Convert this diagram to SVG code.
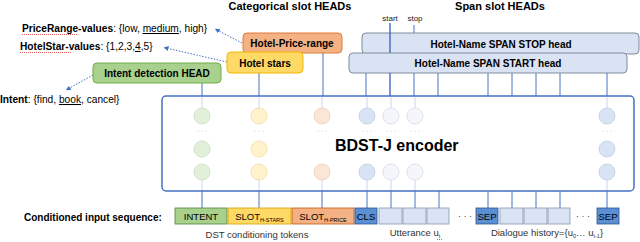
<svg xmlns="http://www.w3.org/2000/svg" width="640" height="242" viewBox="0 0 640 242">
<style>
text{font-family:"Liberation Sans",Arial,sans-serif;fill:#000}
.b{font-weight:bold}
.hd{font-size:10px;font-weight:bold;text-anchor:middle}
.ttl{font-size:11px;font-weight:bold;text-anchor:middle}
.lbl{font-size:10.2px}
.tok{font-size:9.5px;text-anchor:middle}
.sub{font-size:5.5px}
.cap{font-size:9.5px;fill:#333;text-anchor:middle}
.conn{stroke:#4472c4;stroke-width:1;fill:none}
.faint{stroke:#c9d6ee;stroke-width:1;fill:none}
.dash{stroke:#4472c4;stroke-width:1;stroke-dasharray:1.5 1.5;fill:none}
.span{fill:#dae3f3;stroke:#7f8b9b;stroke-width:1}
.cg{fill:#e2efda;stroke:#d3e3c8}
.cy{fill:#fff2cc;stroke:#f5e4b0}
.co{fill:#fbe5d6;stroke:#f3d3bf}
.cb{fill:#dae3f3;stroke:#c9d5ea}
.cl{fill:#f4f6fb;stroke:#dde3ef}
.dots{fill:#bbb}
.sq{stroke:#e03030;stroke-width:0.8;stroke-dasharray:1 1;fill:none}
.tk{stroke-width:0.8}
</style>
<defs>
<marker id="ah" viewBox="0 0 6 6" refX="3" refY="3" markerWidth="5" markerHeight="5" orient="auto-start-reverse">
<path d="M0,0 L6,3 L0,6 z" fill="#4472c4"/>
</marker>
</defs>

<!-- titles -->
<text class="ttl" x="290" y="10">Categorical slot HEADs</text>
<text class="ttl" x="500" y="10">Span slot HEADs</text>
<text x="390" y="21" style="font-size:8px;text-anchor:middle;fill:#222">start</text>
<text x="415" y="21" style="font-size:8px;text-anchor:middle;fill:#222">stop</text>

<!-- value texts -->
<g id="price-values">
<text class="lbl" x="22" y="32"><tspan class="b">PriceRange-values</tspan>: {low, <tspan text-decoration="underline">medium</tspan>, high}</text>
<path class="sq" d="M22,34.5 H78"/>
</g>
<g id="star-values">
<text class="lbl" x="20" y="50"><tspan class="b">HotelStar-values</tspan>: {1,2,3,<tspan text-decoration="underline">4</tspan>,5}</text>
<path class="sq" d="M20,52.5 H72"/>
</g>
<g id="intent-values">
<text class="lbl" x="0" y="103"><tspan class="b">Intent</tspan>: {find, <tspan text-decoration="underline">book</tspan>, cancel}</text>
</g>

<!-- connectors -->
<g id="connectors">
<path class="dash" d="M242,43 L217,30" marker-end="url(#ah)"/>
<path class="dash" d="M227,62 L166,48" marker-end="url(#ah)"/>
<path class="dash" d="M93,75 L68,89" marker-end="url(#ah)"/>
<path class="conn" d="M202,83 V96 M259,73 V96 M323,53 V96"/>
<path class="conn" d="M366,73 V96 M414,73 V96 M438,73 V96 M488,73 V96 M512,73 V96 M536,73 V96 M560,73 V96 M607,73 V96"/>
<path class="conn" d="M414,25 V33"/>
<path class="conn" d="M202,191 V208 M259,191 V208 M322,191 V208 M367,191 V208 M391,191 V208 M415,191 V208 M439,191 V208 M488,191 V208 M512,191 V208 M536,191 V208 M560,191 V208 M607,191 V208"/>
</g>

<!-- Span heads -->
<g id="span-stop">
<rect class="span" x="362" y="33" width="277" height="21" rx="4"/>
</g>
<path class="conn" d="M390,23 V53" style="stroke:#2f5fb8;stroke-width:1.3"/>
<g id="span-stop-label">
<text class="hd" x="501" y="48">Hotel-Name SPAN STOP head</text>
</g>
<g id="span-start">
<rect class="span" x="349" y="53" width="278" height="20" rx="4"/>
<text class="hd" x="488" y="67">Hotel-Name SPAN START head</text>
</g>
<path class="conn" d="M390,73 V96" style="stroke:#2f5fb8;stroke-width:1.3"/>

<!-- Categorical heads -->
<g id="head-price">
<rect x="243" y="33" width="99" height="20" rx="4" fill="#f4b183" stroke="#e07b3a"/>
<text class="hd" x="292" y="47">Hotel-Price-range</text>
</g>
<g id="head-stars">
<rect x="227" y="52" width="76" height="21" rx="4" fill="#ffd966" stroke="#f0b800"/>
<text class="hd" x="265" y="66.5">Hotel stars</text>
</g>
<g id="head-intent">
<rect x="93" y="63" width="128" height="20" rx="4" fill="#a9d18e" stroke="#70ad47"/>
<text class="hd" x="157" y="77">Intent detection HEAD</text>
</g>

<!-- Encoder -->
<g id="encoder">
<rect x="162" y="96" width="472" height="95" rx="4" fill="#fff" stroke="#4472c4" stroke-width="1.5"/>
<path class="faint" d="M202,97 V108 M202,180 V190 M259,97 V108 M259,180 V190 M322,97 V108 M322,180 V190 M367,97 V108 M367,180 V190 M391,97 V108 M391,180 V190 M415,97 V108 M415,180 V190 M607,97 V108 M607,180 V190"/>
<circle class="cg" cx="202" cy="116" r="8"/><circle class="cg" cx="202" cy="149" r="8"/><circle class="cg" cx="202" cy="172" r="8"/>
<circle class="cy" cx="259" cy="116" r="8"/><circle class="cy" cx="259" cy="149" r="8"/><circle class="cy" cx="259" cy="172" r="8"/>
<circle class="co" cx="322" cy="116" r="8"/><circle class="co" cx="322" cy="172" r="8"/>
<circle class="cb" cx="367" cy="116" r="8"/><circle class="cb" cx="367" cy="172" r="8"/>
<circle class="cl" cx="391" cy="116" r="8"/><circle class="cl" cx="391" cy="172" r="8"/>
<circle class="cl" cx="415" cy="116" r="8"/><circle class="cl" cx="415" cy="172" r="8"/>
<circle class="cb" cx="607" cy="116" r="8"/><circle class="cb" cx="607" cy="149" r="8"/><circle class="cb" cx="607" cy="172" r="8"/>
<g class="dots">
<circle cx="198" cy="131" r="0.5"/><circle cx="202" cy="131" r="0.5"/><circle cx="206" cy="131" r="0.5"/>
<circle cx="255" cy="131" r="0.5"/><circle cx="259" cy="131" r="0.5"/><circle cx="263" cy="131" r="0.5"/>
<circle cx="318" cy="131" r="0.5"/><circle cx="322" cy="131" r="0.5"/><circle cx="326" cy="131" r="0.5"/>
<circle cx="363" cy="131" r="0.5"/><circle cx="367" cy="131" r="0.5"/><circle cx="371" cy="131" r="0.5"/>
<circle cx="387" cy="131" r="0.5"/><circle cx="391" cy="131" r="0.5"/><circle cx="395" cy="131" r="0.5"/>
<circle cx="411" cy="131" r="0.5"/><circle cx="415" cy="131" r="0.5"/><circle cx="419" cy="131" r="0.5"/>
<circle cx="603" cy="131" r="0.5"/><circle cx="607" cy="131" r="0.5"/><circle cx="611" cy="131" r="0.5"/>
</g>
<text x="335" y="150.5" style="font-size:16px;font-weight:bold">BDST-J encoder</text>
</g>

<!-- Input sequence -->
<g id="input-label">
<text class="b" x="24" y="221" style="font-size:10px">Conditioned input sequence:</text>
</g>
<g id="tokens">
<rect class="tk" x="175" y="208" width="52" height="16" fill="#a9d18e" stroke="#548235"/>
<text class="tok" x="201" y="220">INTENT</text>
<rect class="tk" x="228" y="208" width="63" height="16" fill="#ffd966" stroke="#d4a000"/>
<text class="tok" x="259.5" y="220">SLOT<tspan class="sub" dy="2">H-STARS</tspan></text>
<rect class="tk" x="292" y="208" width="62" height="16" fill="#f4b183" stroke="#c55a11"/>
<text class="tok" x="323" y="220">SLOT<tspan class="sub" dy="2">H-PRICE</tspan></text>
<rect class="tk" x="355" y="208" width="22" height="16" fill="#5b8fd4" stroke="#2f528f"/>
<text class="tok" x="366" y="220">CLS</text>
<rect class="tk" x="379" y="208" width="23" height="16" fill="#dae3f3" stroke="#8497b0"/>
<rect class="tk" x="403" y="208" width="23" height="16" fill="#dae3f3" stroke="#8497b0"/>
<rect class="tk" x="427" y="208" width="22" height="16" fill="#dae3f3" stroke="#8497b0"/>
<text x="465" y="219" style="font-size:9px;text-anchor:middle;fill:#444">· · ·</text>
<rect class="tk" x="476" y="208" width="22" height="16" fill="#5b8fd4" stroke="#2f528f"/>
<text class="tok" x="487" y="220">SEP</text>
<rect class="tk" x="500" y="208" width="23" height="16" fill="#dae3f3" stroke="#8497b0"/>
<rect class="tk" x="524" y="208" width="23" height="16" fill="#dae3f3" stroke="#8497b0"/>
<rect class="tk" x="548" y="208" width="22" height="16" fill="#dae3f3" stroke="#8497b0"/>
<text x="583" y="219" style="font-size:9px;text-anchor:middle;fill:#444">· · ·</text>
<rect class="tk" x="597" y="208" width="22" height="16" fill="#5b8fd4" stroke="#2f528f"/>
<text class="tok" x="608" y="220">SEP</text>
</g>
<g id="captions">
<text class="cap" x="257" y="238">DST conditioning tokens</text>
<text class="cap" x="415" y="236">Utterance u<tspan class="sub" dy="2">t</tspan></text>
<path class="sq" d="M437,239.5 H442"/>
<text class="cap" x="547" y="236">Dialogue history={u<tspan class="sub" dy="2">0</tspan><tspan dy="-2">… u</tspan><tspan class="sub" dy="2">t-1</tspan><tspan dy="-2">}</tspan></text>
</g>
</svg>
